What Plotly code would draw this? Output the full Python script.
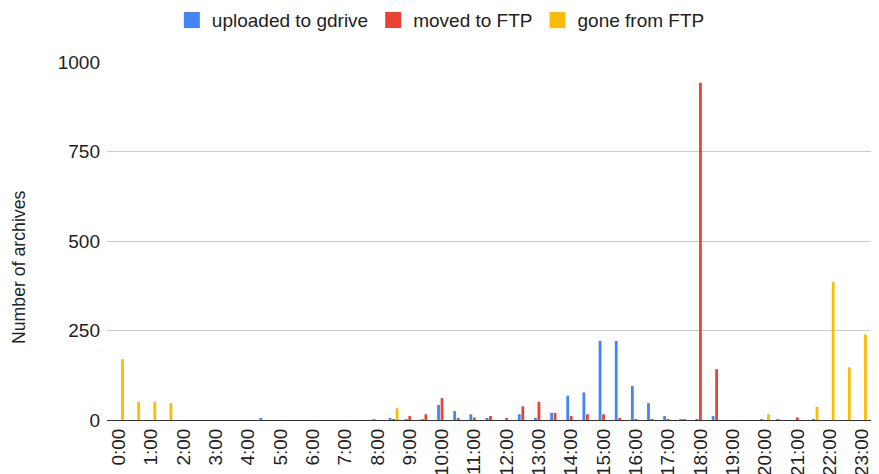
import plotly.graph_objects as go

slots = [f"{h}:{m:02d}" for h in range(24) for m in (0, 30)]
hour_ticks = [f"{h}:00" for h in range(24)]

uploaded = [0, 0, 0, 0, 0, 0, 0, 0, 0, 4,
            0, 0, 0, 0, 0, 0, 2, 5, 2, 2,
            42, 25, 16, 5, 0, 16, 5, 20, 68, 77,
            221, 221, 95, 47, 11, 2, 2, 11, 0, 0,
            2, 1, 0, 0, 0, 0, 0, 0]
moved = [0, 0, 0, 0, 0, 0, 0, 0, 0, 0,
         0, 0, 0, 0, 0, 0, 0, 2, 11, 16,
         61, 3, 7, 11, 6, 38, 51, 20, 11, 16,
         16, 6, 2, 2, 2, 2, 942, 142, 0, 0,
         0, 0, 7, 2, 0, 0, 0, 0]
gone = [170, 51, 51, 47, 0, 0, 0, 0, 0, 0,
        0, 0, 0, 0, 0, 0, 0, 33, 0, 0,
        0, 0, 0, 0, 0, 0, 0, 0, 0, 0,
        0, 0, 0, 0, 0, 0, 0, 0, 0, 0,
        16, 0, 0, 37, 386, 147, 239, 67]

names = ["uploaded to gdrive", "moved to FTP", "gone from FTP"]
colors = ["#4285F4", "#EA4335", "#FBBC04"]
series = [uploaded, moved, gone]
y_title = "Number of archives"

fig = go.Figure()
for name, col, vals in zip(names, colors, series):
    fig.add_trace(go.Bar(x=slots, y=vals, name=name, marker_color=col,
                         marker_line_width=0, showlegend=False))
for name, col in zip(names, colors):
    fig.add_trace(go.Scatter(x=[None], y=[None], mode="markers", name=name,
                             marker=dict(symbol="square", size=16, color=col)))

font = "Liberation Sans, Arial, sans-serif"
fig.update_layout(
    width=879, height=474,
    margin=dict(l=99, r=0, t=54, b=62, autoexpand=False),
    paper_bgcolor="white", plot_bgcolor="white",
    barmode="group", bargap=0.35, bargroupgap=0.2,
    font=dict(family=font, size=17, color="#222"),
    legend=dict(orientation="h", xref="paper", yref="paper",
                x=0.428, xanchor="center", y=1.117, yanchor="middle",
                font=dict(size=19, color="#222"), itemsizing="trace"),
    xaxis=dict(type="category", categoryorder="array", categoryarray=slots,
               range=[-0.743, 47.55], tickmode="array", tickvals=hour_ticks,
               ticktext=hour_ticks, tickangle=-90, showgrid=False,
               showline=True, linecolor="#333", linewidth=1, ticks="",
               tickfont=dict(size=19, color="#222"), automargin=False),
    yaxis=dict(range=[0, 1000], tickvals=[0, 250, 500, 750, 1000],
               showgrid=True, gridcolor="#cccccc", gridwidth=1,
               zeroline=False, ticks="", ticklabelstandoff=6,
               tickfont=dict(size=19, color="#222"), automargin=False),
    annotations=[dict(text=y_title, textangle=-90, xref="paper", yref="paper",
                      x=0, y=0.4274, xanchor="center", yanchor="middle",
                      xshift=-88, showarrow=False,
                      font=dict(size=17.7, color="#222"))],
)
fig.write_html("out.html")
